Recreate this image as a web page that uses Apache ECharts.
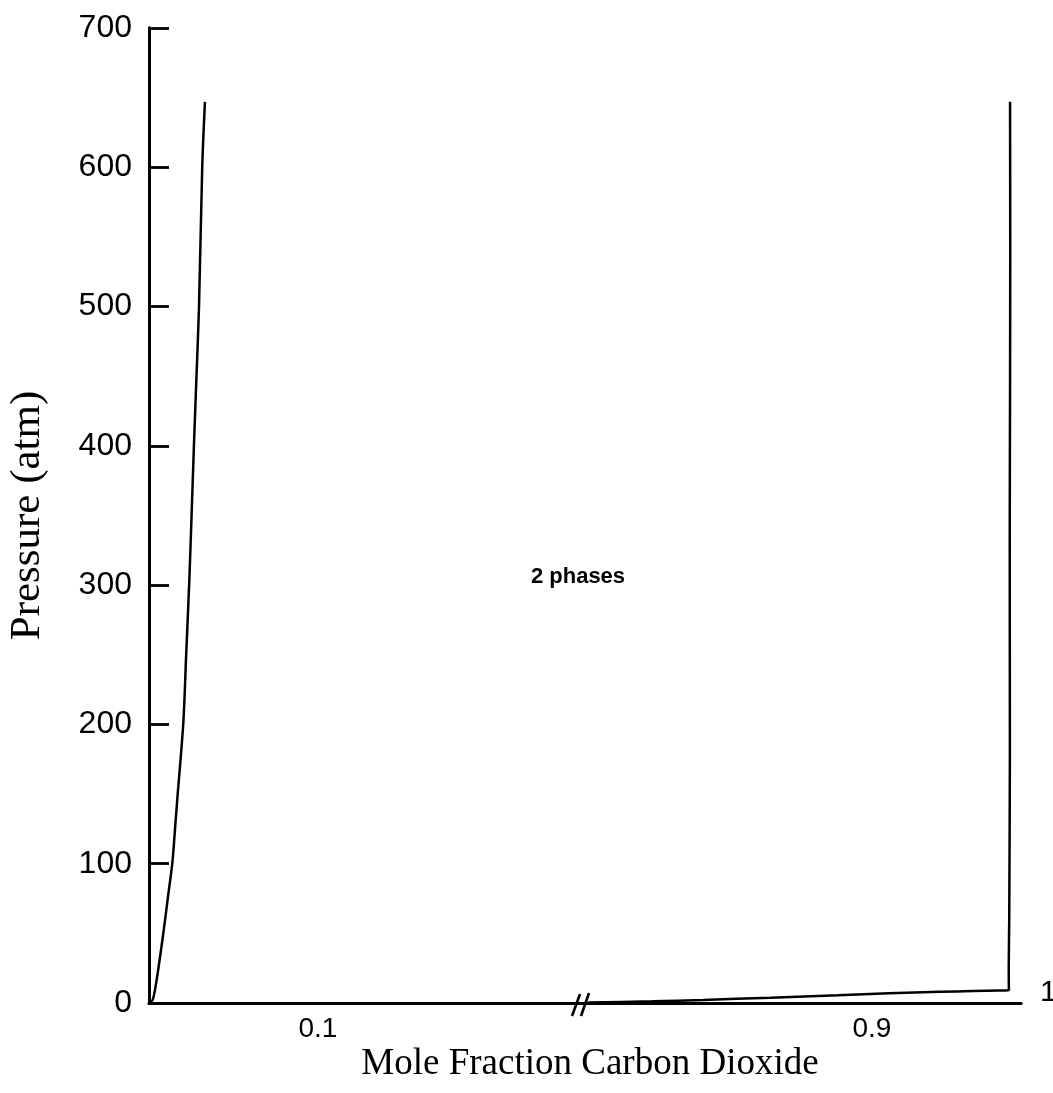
<!DOCTYPE html>
<html>
<head>
<meta charset="utf-8">
<script src="https://cdn.jsdelivr.net/npm/echarts@6/dist/echarts.min.js"></script>
<style>
  html, body { margin: 0; padding: 0; background: #fff; }
  #chart { width: 1053px; height: 1093px; }
</style>
</head>
<body>
<div id="chart"></div>
<script>
// Pressure axis (atm)
const pressureMin = 0;
const pressureMax = 700;
const pressureStep = 100;

// Broken composition axis: low-CO2 segment and high-CO2 segment
const lowRange = [0, 0.2533];
const highRange = [0.7320, 0.98817];
const lowTickValues = [0.1];
const highTickValues = [0.9];
const axisEndLabel = '1';

// Water-rich phase boundary: [mole fraction CO2, pressure atm]
const waterRichPhase = [
  [0.0, 0], [0.0022, 2.2], [0.0047, 18], [0.0085, 50.3], [0.0112, 76],
  [0.0138, 100.5], [0.0154, 125], [0.0167, 145.7], [0.0203, 201],
  [0.0220, 250], [0.0238, 301.5], [0.0252, 350], [0.0266, 400.6],
  [0.0281, 450], [0.0296, 500], [0.0315, 600], [0.0331, 647]
];

// CO2-rich phase boundary: [mole fraction CO2, pressure atm]
const co2RichPhase = [
  [0.7320, 0.3], [0.77, 1.2], [0.80, 2.2], [0.84, 3.8], [0.88, 5.6],
  [0.91, 7.0], [0.94, 8.0], [0.96, 8.6], [0.975, 8.9], [0.9810, 9],
  [0.9809, 24], [0.9812, 60], [0.9816, 180], [0.9815, 331],
  [0.9817, 444], [0.9818, 539], [0.9817, 647]
];

const regionLabel = '2 phases';
const xTitle = 'Mole Fraction Carbon Dioxide';
const yTitle = 'Pressure (atm)';

const INK = '#000';
const sans = '"Liberation Sans", Arial, sans-serif';
const serif = '"Liberation Serif", "Times New Roman", serif';
const AXIS_W = 2.8;
const CURVE_W = 2.5;

const frame = { left: 149, top: 28, width: 872, height: 975 };
const lowGrid = { left: 149, top: 28, width: 428, height: 975 };
const highGrid = { left: 588, top: 28, width: 433, height: 975 };

const hiddenY = (gridIndex) => ({
  type: 'value', gridIndex, min: pressureMin, max: pressureMax, interval: pressureStep,
  show: false
});

const segmentX = (gridIndex, range, ticks, extra) => Object.assign({
  type: 'value', gridIndex, min: range[0], max: range[1], position: 'bottom',
  splitLine: { show: false },
  axisTick: { show: false },
  axisLine: { show: true, lineStyle: { color: INK, width: AXIS_W } },
  axisLabel: {
    customValues: ticks, color: INK, fontFamily: sans, fontSize: 28, margin: 12,
    formatter: (v) => v.toFixed(1)
  }
}, extra || {});

const chart = echarts.init(document.getElementById('chart'), null, { renderer: 'canvas' });

chart.setOption({
  backgroundColor: '#fff',
  animation: false,
  grid: [
    Object.assign({ outerBoundsMode: 'none', containLabel: false }, frame),
    Object.assign({ outerBoundsMode: 'none', containLabel: false }, lowGrid),
    Object.assign({ outerBoundsMode: 'none', containLabel: false }, highGrid)
  ],
  xAxis: [
    // frame: bottom title holder
    {
      type: 'value', gridIndex: 0, min: 0, max: 1, position: 'bottom',
      axisLine: { show: false }, axisTick: { show: false }, axisLabel: { show: false },
      splitLine: { show: false },
      name: xTitle, nameLocation: 'middle', nameGap: 43,
      nameTextStyle: { color: INK, fontFamily: serif, fontSize: 37, padding: [0, 0, 0, 10] }
    },
    // frame: top edge
    {
      type: 'value', gridIndex: 0, min: 0, max: 1, position: 'top',
      axisLine: { show: true, lineStyle: { color: INK, width: AXIS_W } },
      axisTick: { show: false }, axisLabel: { show: false }, splitLine: { show: false }
    },
    segmentX(1, lowRange, lowTickValues),
    segmentX(2, highRange, highTickValues, {
      name: axisEndLabel, nameLocation: 'end', nameGap: 19,
      nameTextStyle: {
        color: INK, fontFamily: sans, fontSize: 30,
        verticalAlign: 'bottom', lineHeight: 20
      }
    })
  ],
  yAxis: [
    {
      type: 'value', gridIndex: 0, min: pressureMin, max: pressureMax, interval: pressureStep,
      position: 'left',
      axisLine: { show: true, lineStyle: { color: INK, width: AXIS_W } },
      axisTick: { show: true, inside: true, length: 20, lineStyle: { color: INK, width: AXIS_W } },
      axisLabel: { color: INK, fontFamily: sans, fontSize: 32, margin: 17 },
      splitLine: { show: false },
      name: yTitle, nameLocation: 'middle', nameGap: 100,
      nameTextStyle: { color: INK, fontFamily: serif, fontSize: 43 }
    },
    {
      type: 'value', gridIndex: 0, min: pressureMin, max: pressureMax, position: 'right',
      axisLine: { show: true, lineStyle: { color: INK, width: AXIS_W } },
      axisTick: { show: false }, axisLabel: { show: false }, splitLine: { show: false }
    },
    hiddenY(1),
    hiddenY(2)
  ],
  series: [
    {
      type: 'line', xAxisIndex: 2, yAxisIndex: 2, data: waterRichPhase,
      smooth: 0.3, symbol: 'none', lineStyle: { color: INK, width: CURVE_W }
    },
    {
      type: 'line', xAxisIndex: 3, yAxisIndex: 3, data: co2RichPhase,
      smooth: 0.2, symbol: 'none', lineStyle: { color: INK, width: CURVE_W }
    }
  ],
  graphic: [
    // axis break marks
    { type: 'line', shape: { x1: 572, y1: 1016, x2: 580, y2: 994 }, style: { stroke: INK, lineWidth: 2.6 } },
    { type: 'line', shape: { x1: 581, y1: 1016, x2: 589, y2: 993 }, style: { stroke: INK, lineWidth: 2.6 } },
    {
      type: 'text', x: 578, y: 577,
      style: {
        text: regionLabel, fill: INK, font: 'bold 22px ' + sans,
        align: 'center', verticalAlign: 'middle'
      }
    }
  ]
});
</script>
</body>
</html>
